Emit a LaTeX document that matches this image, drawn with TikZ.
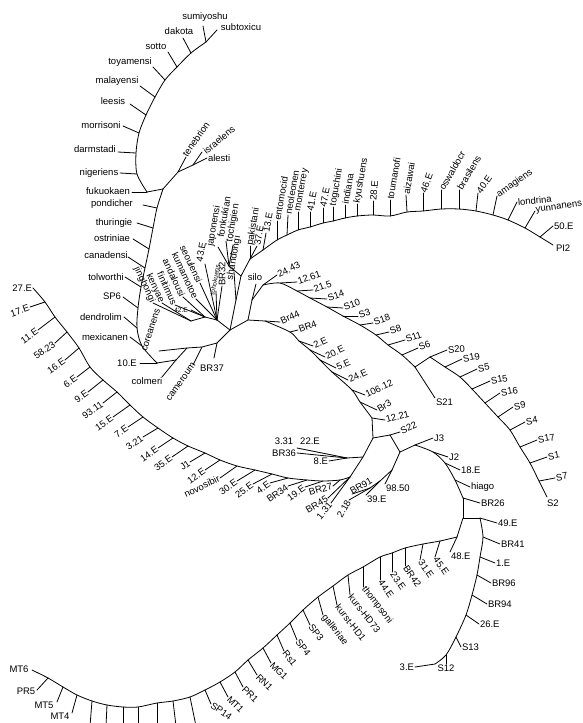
\documentclass[tikz,border=0pt]{standalone}
\usepackage{fontspec}
\setmainfont{Liberation Sans}
\newcommand{\lfc}[6]{\coordinate (#1t) at (#3); \draw[br] (#2) -- (#1t); \node[lbl,rotate=#5] (#1) at (#4) {#6};}
\newcommand{\lfa}[6]{\coordinate (#1t) at (#3); \draw[br] (#2) -- (#1t); \node[lbl,anchor=#4,rotate=#5] (#1) at (#1t) {#6};}
\newcommand{\lfs}[6]{\coordinate (#1t) at (#3); \draw[br] (#2) -- (#1t); \node[sml,rotate=#5] (#1) at (#4) {#6};}
\begin{document}
\begin{tikzpicture}[x=1pt,y=-1pt,
  br/.style={line width=0.8pt, line join=round, line cap=round},
  lbl/.style={font=\fontsize{9.5}{10}\selectfont, inner sep=0.8pt},
  sml/.style={font=\fontsize{6.5}{7}\selectfont, inner sep=0.5pt}]
\useasboundingbox (0,0) rectangle (582,723);
\begin{scope}
\clip (0,0) rectangle (582,723);
% ---------- top-left clade ----------
\coordinate (t1) at (206,42); \coordinate (t2) at (191,53); \coordinate (t3) at (177,67);
\coordinate (t4) at (165,80); \coordinate (t5) at (155,97); \coordinate (t6) at (146,115);
\coordinate (t7) at (139,133); \coordinate (t8) at (136,153); \coordinate (t9) at (137,174);
\coordinate (tX) at (147,192); \coordinate (tY) at (163,189);
\draw[br] plot[smooth,tension=0.5] coordinates {(t1) (t2) (t3) (t4) (t5) (t6) (t7) (t8) (t9) (tX)};
\draw[br] (tX) -- (tY);
\lfc{a1}{t1}{217,30}{241,27}{0}{subtoxicu}
\lfc{a2}{t1}{203,26}{205,17}{0}{sumiyoshu}
\lfc{a3}{t2}{183,38}{179,31}{0}{dakota}
\lfc{a4}{t3}{168,52}{156,46}{0}{sotto}
\lfc{a5}{t4}{153,67}{130,62}{0}{toyamensi}
\lfc{a6}{t5}{140,86}{117,81}{0}{malayensi}
\lfc{a7}{t6}{130,104}{113,101}{0}{leesis}
\lfc{a8}{t7}{123,126}{101,125}{0}{morrisoni}
\lfc{a9}{t8}{118,152}{95,149}{0}{darmstadi}
\lfc{a10}{t9}{120,173}{99,173}{0}{nigeriens}
\lfc{a11}{tX}{132,192}{108,191}{0}{fukuokaen}
\coordinate (te1) at (178,172); \coordinate (te2) at (193,165);
\draw[br] (tY) -- (te1) -- (te2);
\lfc{a12}{te1}{186,157}{196,139}{55}{tenebrion}
\lfc{a13}{te2}{202,152}{219,140}{40}{israelens}
\lfa{a14}{te2}{207,158}{west}{0}{alesti}
% lower spine
\coordinate (s1) at (157,208); \coordinate (s2) at (153,228); \coordinate (s3) at (149,249);
\coordinate (s4) at (145,268); \coordinate (s5) at (141,287); \coordinate (s6) at (138,308);
\coordinate (s7) at (137,328); \coordinate (s8) at (142,346); \coordinate (c2) at (157,363);
\draw[br] plot[smooth,tension=0.5] coordinates {(tY) (s1) (s2) (s3) (s4) (s5) (s6) (s7) (s8) (c2)};
\lfc{b1n}{s1}{143,205}{112,204}{0}{pondicher}
\lfc{b2n}{s2}{137,223}{114,223}{0}{thuringie}
\lfc{b3n}{s3}{133,239}{112,238}{0}{ostriniae}
\lfc{b4n}{s4}{128,257}{106,255}{0}{canadensi}
\lfc{b5n}{s5}{125,277}{106,277}{0}{tolworthi}
\lfc{b6n}{s6}{123,297}{112,296}{0}{SP6}
\lfc{b7n}{s7}{124,317}{101,317}{0}{dendrolim}
\lfc{b8n}{s8}{130,337}{105,337}{0}{mexicanen}
\lfc{b9n}{c2}{140,363}{127,363}{0}{10.E}
\coordinate (c1) at (176,360); \coordinate (b3) at (187,348); \coordinate (b2) at (202,347);
\coordinate (b1) at (217,343); \coordinate (R) at (230,330);
\draw[br] (c2) -- (c1) -- (b3) -- (b2) -- (b1) -- (R);
\lfc{b10n}{c1}{162,377}{147,381}{0}{colmeri}
\lfc{b11n}{b2}{193,365}{181,382}{55}{cameroum}
\lfc{b12n}{b1}{214,358}{212,368}{0}{BR37}
\lfc{b13n}{b3}{159,351}{151,330}{72}{coreanens}
% ---------- central fan ----------
\coordinate (f1) at (217,320); \coordinate (f2) at (205,317); \coordinate (f3) at (191,321);
\draw[br] (R) -- (f1) -- (f2) -- (f3);
\lfc{c1n}{f1}{222,286}{222,274}{90}{BR32}
\lfs{c2n}{f1}{216,291}{215,280}{80}{tohokuens}
\lfc{c3n}{f1}{205,264}{201,252}{80}{43.E}
\lfa{c4n}{f1}{200,283}{east}{-65}{seoulensi}
\lfa{c5n}{f1}{196,299}{east}{-65}{kumamotoe}
\lfs{c6n}{f2}{191,310}{181,310}{0}{42.E}
\lfa{c7n}{f2}{183,297}{east}{-65}{andalousi}
\lfa{c8n}{f2}{175,305}{east}{-65}{finitimus}
\lfa{c9n}{f3}{162,303}{east}{-65}{kenyae}
\lfa{c10n}{f3}{153,303}{east}{-65}{jinghongi}
% ---------- upper right clade ----------
\coordinate (u1) at (236,300); \coordinate (u2) at (241,276); \coordinate (u3) at (250,259); \coordinate (u4) at (263,250);
\coordinate (jn) at (229,266);
\draw[br] (R) -- (u1) -- (u2) -- (u3) -- (u4);
\draw[br] (u2) -- (jn);
\lfc{d1}{jn}{218,247}{214,226}{80}{japonensi}
\lfc{d2}{jn}{226,241}{224,217}{80}{fonkukian}
\lfc{d3}{jn}{233,245}{233,223}{80}{tochigien}
\lfc{d4}{u1}{234,272}{234,258}{80}{shandongi}
\lfa{d5}{u3}{250,246}{west}{80}{pakistani}
\lfa{d6}{u3}{257,246}{west}{80}{37.E}
\lfa{d7}{u4}{266,233}{west}{80}{13.E}
\coordinate (v1) at (277,240); \coordinate (v2) at (287,235); \coordinate (v3) at (298,230);
\coordinate (v4) at (310,227); \coordinate (v5) at (323,223); \coordinate (v6) at (333,221);
\coordinate (v7) at (345,218); \coordinate (v8) at (357,216); \coordinate (v9) at (373,215);
\coordinate (v10) at (390,216); \coordinate (v11) at (407,212); \coordinate (v12) at (423,211);
\coordinate (v13) at (441,209); \coordinate (v14) at (459,209); \coordinate (v15) at (476,211);
\coordinate (v16) at (493,215); \coordinate (v17) at (508,220); \coordinate (v18) at (525,228);
\coordinate (v19) at (540,237); \coordinate (v20) at (553,245);
\draw[br] plot[smooth,tension=0.5] coordinates {(u4) (v1) (v2) (v3) (v4) (v5) (v6) (v7) (v8) (v9) (v10) (v11) (v12) (v13) (v14) (v15) (v16) (v17) (v18) (v19) (v20)};
\lfa{d8}{v1}{277,221}{west}{80}{entomocid}
\lfa{d9}{v2}{288,215}{west}{80}{neoleonen}
\lfa{d10}{v3}{298,212}{west}{80}{monterrey}
\lfa{d11}{v4}{310,212}{west}{80}{41.E}
\lfa{d12}{v5}{323,208}{west}{80}{47.E}
\lfa{d13}{v6}{333,207}{west}{80}{toguchini}
\lfa{d14}{v7}{345,205}{west}{80}{indiana}
\lfa{d15}{v8}{357,204}{west}{80}{kyushuens}
\lfa{d16}{v9}{373,201}{west}{85}{28.E}
\lfa{d17}{v10}{390,200}{west}{80}{toumanofi}
\lfa{d18}{v11}{406,195}{west}{80}{aizawai}
\lfa{d19}{v12}{423,193}{west}{70}{46.E}
\lfa{d20}{v13}{441,190}{west}{60}{oswaldocr}
\lfa{d21}{v14}{459,190}{west}{60}{brasilens}
\lfa{d22}{v15}{478,193}{west}{55}{40.E}
\lfa{d23}{v16}{497,196}{west}{35}{amagiens}
\lfa{d24}{v17}{517,202}{west}{5}{londrina}
\lfa{d25}{v18}{535,211}{west}{8}{yunnanens}
\lfa{d26}{v19}{553,226}{west}{0}{50.E}
\node[lbl,anchor=west] (d27) at (555,248) {PI2};
% ---------- S clade ----------
\coordinate (P) at (248,320); \coordinate (sl) at (252,300); \coordinate (sr) at (263,285);
\coordinate (q1) at (280,283); \coordinate (q2) at (297,291); \coordinate (q3) at (310,298);
\coordinate (q4) at (327,307); \coordinate (q5) at (343,316); \coordinate (q6) at (360,325);
\coordinate (q7) at (376,335); \coordinate (q8) at (388,345); \coordinate (q9) at (402,355);
\coordinate (q10) at (415,367); \coordinate (sA) at (430,357);
\draw[br] (R) -- (P) -- (sl) -- (sr);
\draw[br] plot[smooth,tension=0.5] coordinates {(sr) (q1) (q2) (q3) (q4) (q5) (q6) (q7) (q8) (q9) (q10)};
\draw[br] (q10) -- (sA);
\lfc{e1}{sl}{256,284}{255,277}{0}{silo}
\lfa{e2}{sr}{277,275}{west}{25}{24.43}
\lfa{e3}{q1}{297,282}{west}{20}{12.61}
\lfa{e4}{q2}{313,290}{west}{20}{21.5}
\lfa{e5}{q3}{327,299}{west}{20}{S14}
\lfa{e6}{q4}{343,308}{west}{20}{S10}
\lfa{e7}{q5}{358,316}{west}{20}{S3}
\lfa{e8}{q6}{373,323}{west}{20}{S18}
\lfa{e9}{q7}{389,332}{west}{20}{S8}
\lfa{e10}{q8}{405,340}{west}{20}{S11}
\lfa{e11}{q9}{418,348}{west}{20}{S6}
\lfa{e12}{q10}{435,398}{north west}{0}{S21}
\lfa{e13}{sA}{447,350}{west}{5}{S20}
\coordinate (w1) at (445,367); \coordinate (w2) at (460,377); \coordinate (w3) at (472,389);
\coordinate (w4) at (485,403); \coordinate (w5) at (498,417); \coordinate (w6) at (510,430);
\coordinate (w7) at (520,447); \coordinate (w8) at (530,463); \coordinate (w9) at (539,481);
\coordinate (w10) at (547,497);
\draw[br] plot[smooth,tension=0.5] coordinates {(sA) (w1) (w2) (w3) (w4) (w5) (w6) (w7) (w8) (w9) (w10)};
\lfa{e14}{w1}{462,359}{west}{10}{S19}
\lfa{e15}{w2}{477,369}{west}{10}{S5}
\lfa{e16}{w3}{490,381}{west}{10}{S15}
\lfa{e17}{w4}{500,393}{west}{10}{S16}
\lfa{e18}{w5}{513,407}{west}{10}{S9}
\lfa{e19}{w6}{525,422}{west}{10}{S4}
\lfa{e20}{w7}{537,440}{west}{10}{S17}
\lfa{e21}{w8}{547,457}{west}{10}{S1}
\lfa{e22}{w9}{555,478}{west}{10}{S7}
\node[lbl,anchor=north west] (e23) at (546,499) {S2};
% ---------- Br44 clade ----------
\coordinate (g0) at (265,321); \coordinate (g1) at (290,332); \coordinate (g2) at (299,341);
\coordinate (g3) at (310,350); \coordinate (g4) at (320,360); \coordinate (g5) at (332,372);
\coordinate (g6) at (352,390); \coordinate (g7) at (360,402); \coordinate (g8) at (372,418);
\coordinate (Q) at (373,438);
\draw[br] (P) -- (g0);
\draw[br] plot[smooth,tension=0.5] coordinates {(g0) (g1) (g2) (g3) (g4) (g5) (g6) (g7) (g8)};
\draw[br] (g8) -- (Q);
\lfa{f1n}{g0}{280,322}{west}{25}{Br44}
\lfa{f2n}{g1}{298,330}{west}{20}{BR4}
\lfa{f3n}{g2}{313,346}{west}{25}{2.E}
\lfa{f4n}{g3}{325,357}{west}{25}{20.E}
\lfa{f5n}{g4}{336,368}{west}{25}{5.E}
\lfa{f6n}{g5}{348,380}{west}{25}{24.E}
\lfa{f7n}{g6}{365,395}{west}{25}{106.12}
\lfa{f8n}{g7}{377,410}{west}{30}{Br3}
\lfa{f9n}{g8}{385,420}{west}{15}{12.21}
% ---------- J clade ----------
\coordinate (k1) at (390,435); \coordinate (J) at (400,452); \coordinate (j0) at (415,445);
\draw[br] (Q) -- (k1) -- (J) -- (j0);
\lfa{h1}{k1}{400,432}{west}{25}{S22}
\lfa{h2}{j0}{433,438}{west}{0}{J3}
\coordinate (j1) at (433,452); \coordinate (j2) at (445,463); \coordinate (j3) at (455,480);
\coordinate (j4) at (463,498); \coordinate (j5) at (463,518); \coordinate (j6) at (480,518);
\draw[br] plot[smooth,tension=0.5] coordinates {(j0) (j1) (j2) (j3) (j4)};
\draw[br] (j4) -- (j5) -- (j6);
\lfa{h3}{j1}{448,457}{west}{0}{J2}
\lfa{h4}{j2}{460,470}{west}{0}{18.E}
\lfa{h5}{j3}{470,487}{west}{0}{hiago}
\lfa{h6}{j4}{480,503}{west}{0}{BR26}
\lfa{h7}{j6}{497,523}{west}{0}{49.E}
\coordinate (j7) at (483,537); \coordinate (j8) at (480,557); \coordinate (j9) at (477,575);
\coordinate (j10) at (472,595); \coordinate (j11) at (466,615); \coordinate (j12) at (456,637);
\coordinate (j13) at (446,655); \coordinate (j14) at (435,664);
\draw[br] plot[smooth,tension=0.5] coordinates {(j6) (j7) (j8) (j9) (j10) (j11) (j12) (j13) (j14)};
\lfa{h8}{j7}{500,544}{west}{0}{BR41}
\lfa{h9}{j8}{495,563}{west}{0}{1.E}
\lfa{h10}{j9}{491,583}{west}{0}{BR96}
\lfa{h11}{j10}{487,604}{west}{0}{BR94}
\lfa{h12}{j11}{479,624}{west}{0}{26.E}
\lfa{h13}{j12}{461,647}{west}{0}{S13}
\lfa{h14}{j13}{446,664}{north}{0}{S12}
\lfa{h15}{j14}{415,667}{east}{0}{3.E}
% ---------- bottom curve ----------
\coordinate (m0) at (457,537);
\draw[br] (j5) -- (m0);
\lfa{i0}{m0}{450,552}{north west}{0}{48.E}
\coordinate (m1) at (440,541); \coordinate (m2) at (423,544); \coordinate (m3) at (405,548);
\coordinate (m4) at (392,553); \coordinate (m5) at (380,557); \coordinate (m6) at (363,567);
\coordinate (m7) at (348,575); \coordinate (m8) at (333,586); \coordinate (m9) at (318,597);
\coordinate (m10) at (303,610); \coordinate (m11) at (290,623); \coordinate (m12) at (277,635);
\coordinate (m13) at (263,648); \coordinate (m14) at (248,660); \coordinate (m15) at (235,672);
\coordinate (m16) at (220,682); \coordinate (m17) at (205,690); \coordinate (m18) at (190,697);
\coordinate (m19) at (173,701); \coordinate (m20) at (157,703); \coordinate (m21) at (138,707);
\coordinate (m22) at (123,707); \coordinate (m23) at (107,705); \coordinate (m24) at (92,701);
\coordinate (m25) at (77,695); \coordinate (m26) at (63,687); \coordinate (m27) at (48,678);
\coordinate (m28) at (32,670);
\draw[br] plot[smooth,tension=0.5] coordinates {(m0) (m1) (m2) (m3) (m4) (m5) (m6) (m7) (m8) (m9) (m10) (m11) (m12) (m13) (m14) (m15) (m16) (m17) (m18) (m19) (m20) (m21) (m22) (m23) (m24) (m25) (m26) (m27) (m28)};
\lfa{i1}{m1}{435,557}{west}{-55}{45.E}
\lfa{i2}{m2}{420,560}{west}{-55}{31.E}
\lfa{i3}{m3}{405,566}{west}{-55}{BR42}
\lfa{i4}{m4}{392,572}{west}{-55}{23.E}
\lfa{i5}{m5}{380,580}{west}{-55}{44.E}
\lfa{i6}{m6}{363,587}{west}{-52}{thompsoni}
\lfa{i7}{m7}{350,595}{west}{-52}{kurs-HD73}
\lfa{i8}{m8}{337,605}{west}{-52}{kurst-HD1}
\lfa{i9}{m9}{323,615}{west}{-52}{galleriae}
\lfa{i10}{m10}{310,625}{west}{-52}{SP3}
\lfa{i11}{m11}{297,640}{west}{-52}{SP4}
\lfa{i12}{m12}{284,651}{west}{-52}{Rs1}
\lfa{i13}{m13}{271,663}{west}{-45}{MG1}
\lfa{i14}{m14}{257,675}{west}{-45}{RN1}
\lfa{i15}{m15}{243,687}{west}{-45}{PR1}
\lfa{i16}{m16}{228,697}{west}{-45}{MT1}
\lfa{i17}{m17}{211,704}{west}{-35}{SP14}
\coordinate (i18t) at (196,726); \draw[br] (m18) -- (i18t);
\coordinate (i19t) at (176,726); \draw[br] (m19) -- (i19t);
\coordinate (i20t) at (157,726); \draw[br] (m20) -- (i20t);
\coordinate (i21t) at (138,726); \draw[br] (m21) -- (i21t);
\coordinate (i22t) at (123,726); \draw[br] (m22) -- (i22t);
\coordinate (i23t) at (106,726); \draw[br] (m23) -- (i23t);
\coordinate (i24t) at (90,726); \draw[br] (m24) -- (i24t);
\lfc{i25}{m25}{72,713}{60,716}{0}{MT4}
\lfc{i26}{m26}{57,702}{44,705}{0}{MT5}
\lfc{i27}{m27}{37,690}{26,691}{0}{PR5}
\node[lbl] (i28) at (19,669) {MT6};
% ---------- 27.E curve ----------
\coordinate (e0) at (33,288); \coordinate (ee1) at (45,302); \coordinate (ee2) at (55,317);
\coordinate (ee3) at (67,332); \coordinate (ee4) at (79,348); \coordinate (ee5) at (90,367);
\coordinate (ee6) at (103,380); \coordinate (ee7) at (117,392); \coordinate (ee8) at (130,405);
\coordinate (ee9) at (143,417); \coordinate (ee10) at (158,428); \coordinate (ee11) at (173,438);
\coordinate (ee12) at (188,446); \coordinate (ee13) at (205,453); \coordinate (ee14) at (220,460);
\coordinate (ee15) at (237,466); \coordinate (ee16) at (255,470); \coordinate (ee17) at (272,474);
\coordinate (ee18) at (288,478); \coordinate (ee19) at (307,480); \coordinate (ee20) at (323,481);
\coordinate (ee21) at (340,480); \coordinate (ee22) at (350,477); \coordinate (ee23) at (363,457);
\draw[br] plot[smooth,tension=0.5] coordinates {(e0) (ee1) (ee2) (ee3) (ee4) (ee5) (ee6) (ee7) (ee8) (ee9) (ee10) (ee11) (ee12) (ee13) (ee14) (ee15) (ee16) (ee17) (ee18) (ee19) (ee20) (ee21) (ee22)};
\draw[br] (ee22) -- (ee23) -- (Q);
\node[lbl,anchor=east] (k0) at (e0) {27.E};
\lfa{k1n}{ee1}{30,307}{east}{20}{17.E}
\lfa{k2n}{ee2}{38,330}{east}{35}{11.E}
\lfa{k3n}{ee3}{55,343}{east}{35}{58.23}
\lfa{k4n}{ee4}{65,360}{east}{35}{16.E}
\lfa{k5n}{ee5}{77,377}{east}{35}{6.E}
\lfa{k6n}{ee6}{88,392}{east}{35}{9.E}
\lfa{k7n}{ee7}{103,403}{east}{35}{93.11}
\lfa{k8n}{ee8}{113,417}{east}{35}{15.E}
\lfa{k9n}{ee9}{128,427}{east}{35}{7.E}
\lfa{k10n}{ee10}{143,437}{east}{35}{3.21}
\lfa{k11n}{ee11}{158,448}{east}{35}{14.E}
\lfa{k12n}{ee12}{172,457}{east}{35}{35.E}
\lfa{k13n}{ee13}{190,462}{east}{35}{J1}
\lfa{k14n}{ee14}{205,470}{east}{35}{12.E}
\lfa{k15n}{ee15}{220,478}{east}{25}{novosibir}
\lfa{k16n}{ee16}{237,481}{east}{35}{30.E}
\lfa{k17n}{ee17}{253,484}{east}{35}{25.E}
\lfa{k18n}{ee18}{270,483}{east}{35}{4.E}
\lfa{k19n}{ee19}{288,486}{east}{35}{BR34}
\lfa{k20n}{ee20}{305,487}{east}{35}{19.E}
\lfa{k21n}{ee21}{333,486}{east}{15}{BR27}
\lfa{k22n}{ee22}{328,498}{east}{30}{BR45}
\lfa{k23n}{ee22}{331,503}{east}{50}{1.31}
% BR36 clade
\coordinate (bn) at (347,458);
\draw[br] (ee23) -- (bn);
\lfa{l1}{bn}{329,461}{east}{0}{8.E}
\coordinate (l2t) at (297,448); \draw[br] (bn) -- (l2t);
\node[lbl] (l2) at (284,441) {3.31};
\node[lbl] (l3) at (310,441) {22.E};
\lfa{l4}{bn}{297,453}{east}{0}{BR36}
% 98.50 clade
\coordinate (h1n) at (392,470); \coordinate (h2n) at (380,481); \coordinate (h3n) at (370,488);
\draw[br] (J) -- (h1n) -- (h2n) -- (h3n);
\lfa{n1}{h1n}{385,484}{north west}{0}{98.50}
\lfa{n2}{h2n}{366,495}{north west}{0}{39.E}
\lfa{n3}{h3n}{349,500}{east}{60}{2.18}
\coordinate (n4t) at (352,494); \draw[br] (h3n) -- (n4t);
\node[lbl,rotate=30] (n4) at (361,486) {BR91};
\end{scope}
\end{tikzpicture}
\end{document}
